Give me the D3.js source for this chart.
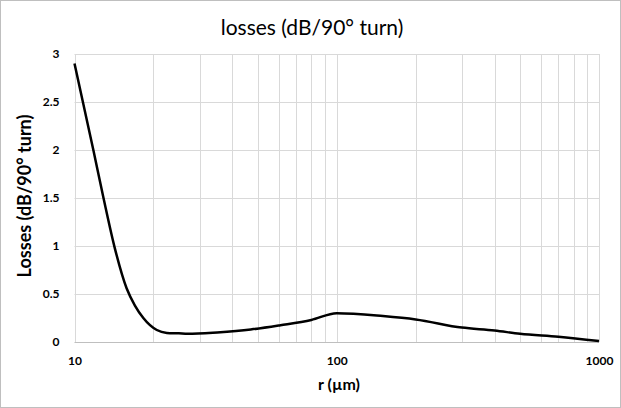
<!DOCTYPE html>
<html><head><meta charset="utf-8">
<script src="https://cdn.jsdelivr.net/npm/d3@7"></script>
<style>
body{margin:0;background:#fff;}
svg{display:block;font-family:Lato,"Open Sans",sans-serif;}
</style></head>
<body>
<svg id="c" width="621" height="408"></svg>
<script>
const rValues = [10, 11.8, 12.9, 14.3, 15.8, 17, 18.3, 20.6, 22.5, 25, 27, 35, 47, 61, 80, 100, 150, 200, 300, 400, 500, 700, 1000];
const lossValues = [2.9, 2.0, 1.5, 0.96, 0.56, 0.38, 0.25, 0.125, 0.095, 0.09, 0.085, 0.10, 0.13, 0.175, 0.23, 0.30, 0.27, 0.235, 0.15, 0.12, 0.085, 0.055, 0.01];
const xTickLabels = [10, 100, 1000];
const yTickLabels = [0, 0.5, 1, 1.5, 2, 2.5, 3];
const xGridValues = [10,20,30,40,50,60,70,80,90,100,200,300,400,500,600,700,800,900,1000];

const svg = d3.select("#c");
const W = 621, H = 408;
const m = {l: 74.5, r: 599, t: 54, b: 342};

svg.append("rect").attr("x",0.5).attr("y",0.5).attr("width",W-1).attr("height",H-1)
  .attr("fill","#fff").attr("stroke","#bfbfbf");

const x = d3.scaleLog().domain([10,1000]).range([m.l, m.r]);
const y = d3.scaleLinear().domain([0,3]).range([m.b, m.t]);

// gridlines
svg.append("g").selectAll("line").data(xGridValues).join("line")
  .attr("x1", d=>Math.round(x(d))+0.5).attr("x2", d=>Math.round(x(d))+0.5)
  .attr("y1", m.t).attr("y2", m.b).attr("stroke","#d9d9d9").attr("stroke-width",1);
svg.append("g").selectAll("line").data(yTickLabels).join("line")
  .attr("x1", m.l).attr("x2", m.r)
  .attr("y1", d=>Math.round(y(d))+0.5).attr("y2", d=>Math.round(y(d))+0.5)
  .attr("stroke", d=> d===0 ? "#bfbfbf" : "#d9d9d9").attr("stroke-width",1);

// axes labels via d3 axes
const xAxis = d3.axisBottom(x).tickValues(xTickLabels).tickFormat(d3.format("d")).tickSize(0).tickPadding(14);
const gx = svg.append("g").attr("transform",`translate(0,${m.b})`).call(xAxis);
gx.select(".domain").remove();
gx.selectAll("text").attr("font-family","Lato, sans-serif").attr("font-size",12).attr("font-weight","bold").attr("fill","#000");

const yAxis = d3.axisLeft(y).tickValues(yTickLabels).tickFormat(d=>String(d)).tickSize(0).tickPadding(15);
const gy = svg.append("g").attr("transform",`translate(${m.l},0)`).call(yAxis);
gy.select(".domain").remove();
gy.selectAll("text").attr("font-family","Lato, sans-serif").attr("font-size",12).attr("font-weight","bold").attr("fill","#000");

// line
const data = rValues.map((r,i)=>({r, v: lossValues[i]}));
const line = d3.line().x(d=>x(d.r)).y(d=>y(d.v)).curve(d3.curveMonotoneX);
svg.append("path").datum(data).attr("d", line).attr("fill","none")
  .attr("stroke","#000").attr("stroke-width",2.5).attr("stroke-linejoin","round");

// titles
svg.append("text").attr("x", 312).attr("y", 35).attr("text-anchor","middle")
  .attr("font-size",21).attr("fill","#000").text("losses (dB/90° turn)");
svg.append("text").attr("x", 339).attr("y", 390).attr("text-anchor","middle")
  .attr("font-size",16).attr("font-weight","bold").attr("fill","#000").text("r (µm)");
svg.append("text").attr("transform","translate(31,196) rotate(-90)").attr("text-anchor","middle")
  .attr("font-size",18).attr("font-weight","bold").attr("fill","#000").text("Losses (dB/90° turn)");
</script>
</body></html>
